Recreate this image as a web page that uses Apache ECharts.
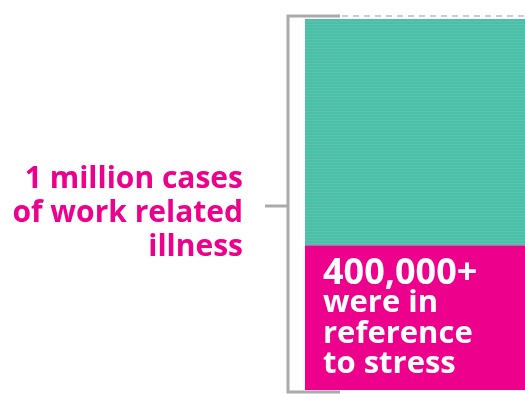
<!DOCTYPE html>
<html>
<head>
<meta charset="utf-8">
<script src="https://cdn.jsdelivr.net/npm/echarts@6/dist/echarts.min.js"></script>
<style>html,body{margin:0;padding:0;background:#fff}#c{width:525px;height:394px}</style>
</head>
<body>
<div id="c"></div>
<script>
const categories = ['Work related illness'];
const stressCases = [390000];
const otherCases = [610000];
const totalCases = 1000000;
const bracketLines = ['1 million cases', 'of work related', 'illness'];
const stressLines = ['400,000+', 'were in', 'reference', 'to stress'];

const MAGENTA = '#ec008c';
const TEAL = '#4bbfa8';
const GRAY = '#aaaaaa';

const stressFormatter = stressLines.map((t, i) => (i === 0 ? '{n|' : '{w|') + t + '}').join('\n');

const chart = echarts.init(document.getElementById('c'), null, {renderer: 'canvas'});
chart.setOption({
  animation: false,
  grid: {left: 305, right: 0, top: 19, bottom: 4},
  xAxis: {type: 'category', data: categories, show: false},
  yAxis: {type: 'value', min: 0, max: totalCases, show: false},
  series: [
    {
      type: 'bar', stack: 'all', data: stressCases, barWidth: '100%',
      itemStyle: {color: MAGENTA},
      label: {
        show: true, position: 'insideTopLeft', distance: 0, offset: [18, 13],
        formatter: stressFormatter, color: '#fff',
        fontFamily: 'Open Sans', fontWeight: 'bold',
        rich: {
          n: {fontFamily: 'Open Sans', fontWeight: 'bold', fontSize: 36, lineHeight: 30, color: '#fff'},
          w: {fontFamily: 'Open Sans', fontWeight: 'bold', fontSize: 31, lineHeight: 30.5, color: '#fff'}
        }
      }
    },
    {
      type: 'bar', stack: 'all', data: otherCases, barWidth: '100%',
      itemStyle: {
        color: TEAL,
        decal: {symbol: 'rect', dashArrayX: [1, 0], dashArrayY: [1, 2], color: 'rgba(255,255,255,0.07)', rotation: 0}
      }
    }
  ]
});

function drawBracket() {
  const topY = chart.convertToPixel({yAxisIndex: 0}, totalCases) - 3;
  const botY = chart.convertToPixel({yAxisIndex: 0}, 0) + 2;
  const barLeft = chart.convertToPixel({xAxisIndex: 0}, categories[0]) - 110;
  const bx = barLeft - 17;
  const capEnd = barLeft + 35;
  const midY = (topY + botY) / 2 + 2;
  chart.setOption({
    graphic: [
      {type: 'polyline', shape: {points: [[capEnd, topY], [bx, topY], [bx, botY], [capEnd, botY]]},
       style: {stroke: GRAY, lineWidth: 3, fill: null}},
      {type: 'line', shape: {x1: bx - 23, y1: midY, x2: bx, y2: midY}, style: {stroke: GRAY, lineWidth: 3}},
      {type: 'line', shape: {x1: capEnd + 2, y1: topY, x2: 525, y2: topY},
       style: {stroke: '#cccccc', lineWidth: 2, lineDash: [6, 5]}},
      {type: 'text', x: bx - 45, y: midY + 7,
       style: {text: bracketLines.join('\n'), align: 'right', verticalAlign: 'middle', fill: MAGENTA,
               font: 'bold 30px "Open Sans"', lineHeight: 34}}
    ]
  });
}
drawBracket();
</script>
</body>
</html>
